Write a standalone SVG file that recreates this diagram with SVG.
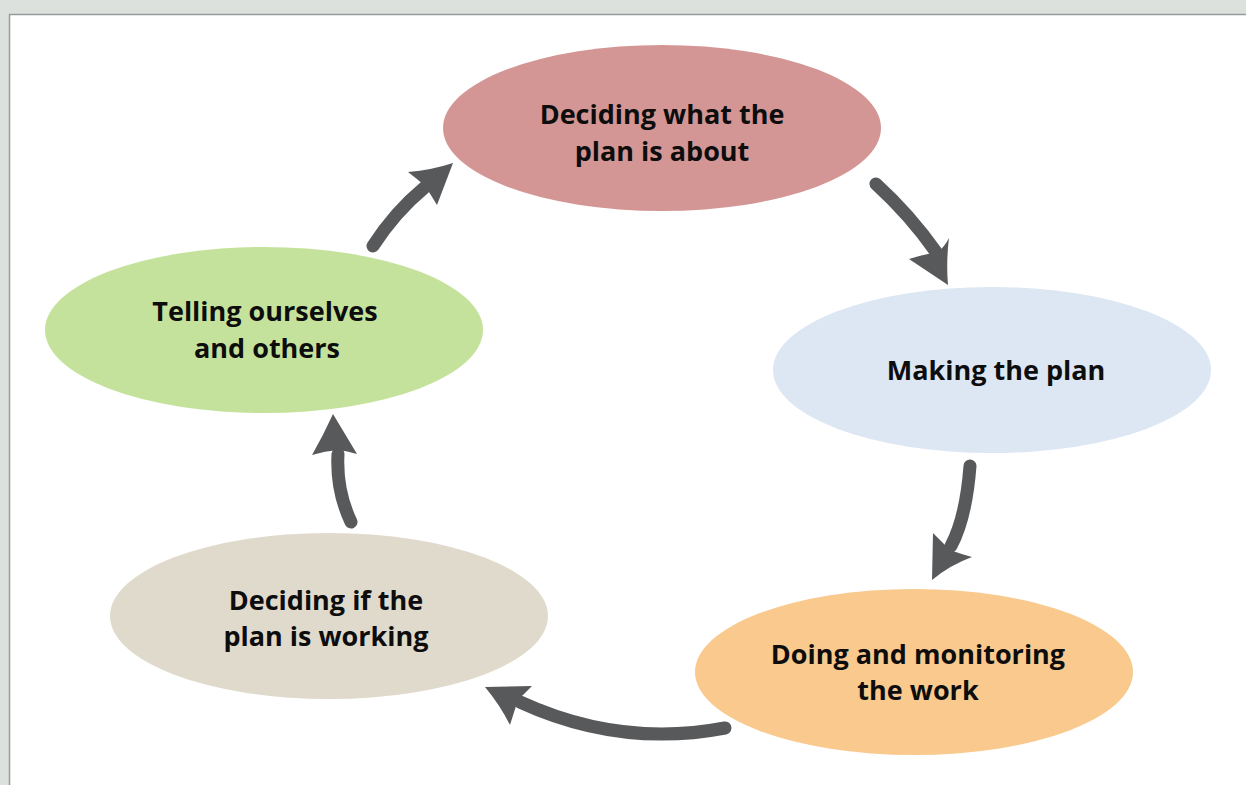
<svg xmlns="http://www.w3.org/2000/svg" width="1246" height="785" viewBox="0 0 1246 785">
<style>
.lbl{font-family:"Open Sans","Liberation Sans",sans-serif;font-weight:700;font-size:27px;fill:#0d0d0d;text-anchor:middle}
.shaft{fill:none;stroke:#58595b;stroke-width:13;stroke-linecap:round}
.head{fill:#58595b}
</style>
<rect x="0" y="0" width="1246" height="785" fill="#dde1de"/>
<rect x="9" y="14" width="1240" height="775" fill="#ffffff"/>
<path d="M9.5,785 V14.5 H1246" fill="none" stroke="#999a9c" stroke-width="1.5"/>
<g id="node-deciding-what">
<ellipse cx="662" cy="128" rx="219" ry="83" fill="#d49694"/>
<text class="lbl" x="662" y="124">Deciding what the</text>
<text class="lbl" x="662" y="161">plan is about</text>
</g>
<g id="node-making">
<ellipse cx="992" cy="370" rx="219" ry="83" fill="#dce7f3"/>
<text class="lbl" x="996" y="380">Making the plan</text>
</g>
<g id="node-doing">
<ellipse cx="914" cy="672" rx="219" ry="83" fill="#f9c98e"/>
<text class="lbl" x="918" y="664">Doing and monitoring</text>
<text class="lbl" x="918" y="700">the work</text>
</g>
<g id="node-deciding-if">
<ellipse cx="329" cy="616" rx="219" ry="83" fill="#e0dacc"/>
<text class="lbl" x="326" y="610">Deciding if the</text>
<text class="lbl" x="326" y="646">plan is working</text>
</g>
<g id="node-telling">
<ellipse cx="264" cy="330" rx="219" ry="83" fill="#c5e29c"/>
<text class="lbl" x="265" y="321">Telling ourselves</text>
<text class="lbl" x="267" y="358">and others</text>
</g>
<g id="connectors">
<path class="shaft" d="M876,184 Q910,215 936,252"/>
<path class="head" d="M948,285 L909,259 Q925,254 938,252 Q945,246 949,238 Q946,262 948,285 Z"/>
<path class="shaft" d="M970,466 Q966,518 951,546"/>
<path class="head" d="M932,580 L933,533 Q943,543 950,550 Q961,554 972,557 Q950,565 932,580 Z"/>
<path class="shaft" d="M725,728 Q620,748 520,702"/>
<path class="head" d="M485,687 L532,686 Q524,694 518,700 Q514,712 510,725 Q500,705 485,687 Z"/>
<path class="shaft" d="M351,522 Q336,490 338,454"/>
<path class="head" d="M333,414 L357,454 Q347,451 338,450 Q325,451 312,455 Q323,436 333,414 Z"/>
<path class="shaft" d="M373,246 Q395,212 424,188"/>
<path class="head" d="M453,163 L437,205 Q431,195 425,186 Q416,178 408,172 Q432,170 453,163 Z"/>
</g>
</svg>
